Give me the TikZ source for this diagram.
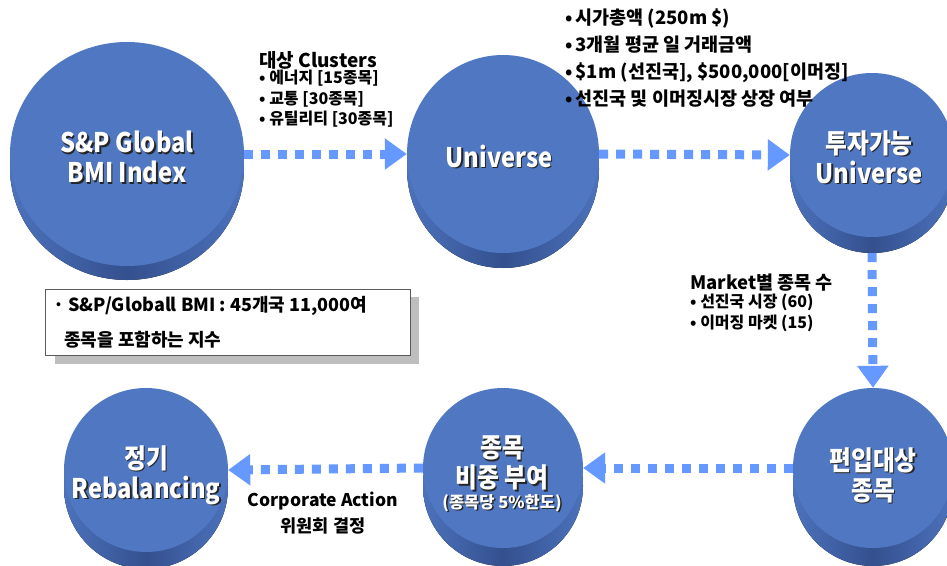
\documentclass[tikz,border=0pt]{standalone}
\usepackage{fontspec}
\setmainfont{Noto Sans CJK KR}
\newfontfamily\narrowkr{Noto Sans CJK KR}[FakeStretch=0.88]
\usetikzlibrary{arrows.meta,shapes.geometric}

\definecolor{topc}{RGB}{79,119,194}
\definecolor{sidec}{RGB}{52,80,142}
\definecolor{sidel}{RGB}{76,114,188}
\definecolor{arrc}{RGB}{102,153,255}
\definecolor{shadowc}{RGB}{190,190,190}
\definecolor{boxline}{RGB}{90,90,90}

\tikzset{
  disktop/.style={ellipse, fill=topc, draw=none, inner sep=0pt},
  flow/.style={draw=arrc, line width=9pt, dash pattern=on 9pt off 8pt,
    -{Triangle[length=22pt,width=30pt,fill=arrc]}},
  ctxt/.style={text=white, font=\narrowkr\bfseries\fontsize{27}{30}\selectfont, align=center, inner sep=0pt},
  cshadow/.style={ctxt, text=black!85},
  ctxtsm/.style={text=white, font=\bfseries\fontsize{16.5}{20}\selectfont, align=center, inner sep=0pt},
  cshadowsm/.style={ctxtsm, text=black!85},
  lbl/.style={text=black, font=\bfseries\fontsize{18.5}{26.7}\selectfont, align=left, inner sep=0pt},
  lblsm/.style={text=black, font=\bfseries\fontsize{16}{20.5}\selectfont, align=left, inner sep=0pt},
  lblc/.style={text=black, font=\bfseries\fontsize{17.5}{26}\selectfont, align=center, inner sep=0pt},
  boxtxt/.style={text=black, font=\bfseries\fontsize{18}{20}\selectfont, inner sep=0pt},
}

\newcommand\mydisk[6]{% name, cx, cy, rx, ry, thickness
  \fill[left color=sidel, right color=sidel, middle color=sidec]
    (#2,#3+#6) ellipse [x radius=#4, y radius=#5];
  \node[disktop, minimum width={2*#4pt}, minimum height={2*#5pt}] (#1) at (#2,#3) {};
}

\begin{document}
\begin{tikzpicture}[x=1pt,y=-1pt]
\useasboundingbox (0,0) rectangle (947,565);
\clip (0,0) rectangle (947,565);
\fill[white] (0,0) rectangle (947,565);

% disks
\mydisk{c1}{127}{154}{117}{112}{14}
\mydisk{c2}{503}{154}{96}{99}{15}
\mydisk{c3}{872}{155}{82}{82}{16}
\mydisk{c4}{873}{468}{80}{80}{18}
\mydisk{c5}{503}{468}{80}{80}{18}
\mydisk{c6}{146}{470}{82}{82}{17}

% disk texts
\node[cshadow] (t1s) at (128.5,158.5) {S\&P Global\\BMI Index};
\node[ctxt] (t1) at (127,157) {S\&P Global\\BMI Index};
\node[cshadow] (t2s) at (500.5,157.5) {Universe};
\node[ctxt] (t2) at (499,156) {Universe};
\node[cshadow] (t3s) at (870.5,158.5) {투자가능\\Universe};
\node[ctxt] (t3) at (869,157) {투자가능\\Universe};
\node[cshadow] (t4s) at (874.5,476.5) {편입대상\\종목};
\node[ctxt] (t4) at (873,475) {편입대상\\종목};
\node[cshadow] (t5s) at (503.5,464.5) {종목\\비중 부여};
\node[ctxt] (t5) at (502,463) {종목\\비중 부여};
\node[cshadowsm] (t5bs) at (503.5,504.5) {(종목당 5\%한도)};
\node[ctxtsm] (t5b) at (502,503) {(종목당 5\%한도)};
\node[cshadow] (t6s) at (147.5,476.5) {정기\\Rebalancing};
\node[ctxt] (t6) at (146,475) {정기\\Rebalancing};

% flow arrows
\draw[flow] (c1.east) -- (c2.west);
\draw[flow] (c2.east) -- (c3.west);
\draw[flow] ([yshift=-16pt]c3.south) -- (c4.north);
\draw[flow] (c4.west) -- (c5.east);
\draw[flow] (c5.west) -- (c6.east);

% labels
\node[lbl, font=\bfseries\fontsize{19}{26}\selectfont, anchor=west] (clt) at (259,60) {대상 Clusters};
\node[lblsm, anchor=north west] (clb) at (259,70) {• 에너지 [15종목]\\• 교통 [30종목]\\• 유틸리티 [30종목]};

\node[lbl, anchor=west] (crit) at (565,58) {•\,시가총액 (250m \$)\\•\,3개월 평균 일 거래금액\\•\,\$1m (선진국], \$500,000[이머징]\\•\,선진국 및 이머징시장 상장 여부};

\node[lbl, anchor=west] (mkt) at (690,283) {Market별 종목 수};
\node[lblsm, anchor=north west] (mktb) at (690,294) {• 선진국 시장 (60)\\• 이머징 마켓 (15)};

\node[lblc] (corp) at (323,513) {Corporate Action\\위원회 결정};

% info box
\fill[shadowc] (55,297) rectangle (419,364);
\draw[boxline, fill=white, line width=0.8pt] (45,289) rectangle (410,355);
\node[boxtxt, anchor=west] (bx1) at (53,306) {· S\&P/Globall BMI : 45개국 11,000여};
\node[boxtxt, anchor=west] (bx2) at (64,340) {종목을 포함하는 지수};
\end{tikzpicture}
\end{document}
